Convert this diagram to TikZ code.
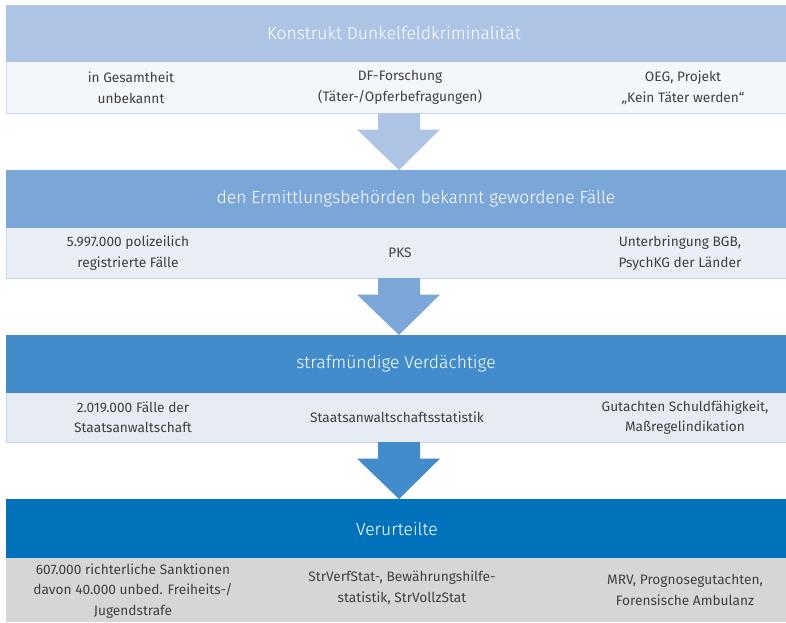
\documentclass[tikz,border=0pt]{standalone}
\usepackage{fontspec}
\setmainfont{Fira Sans Light}
\newfontfamily\cellfont{Fira Sans}
\usetikzlibrary{calc}
\definecolor{hA}{HTML}{AEC4E5}
\definecolor{sA}{HTML}{F3F6FB}
\definecolor{hB}{HTML}{7BA7D8}
\definecolor{sB}{HTML}{E9EEF7}
\definecolor{hC}{HTML}{428CCB}
\definecolor{sC}{HTML}{E7ECF4}
\definecolor{hD}{HTML}{0072BC}
\definecolor{sD}{HTML}{D6D6D8}
\definecolor{rim}{HTML}{CAD8EC}
\definecolor{txt}{HTML}{404040}
\tikzset{
  head/.style={rectangle, inner sep=0pt, outer sep=0pt, minimum width=780pt},
  title/.style={inner sep=0pt, text=white, font=\fontsize{17.5}{20}\selectfont},
  sub/.style={rectangle, inner sep=0pt, outer sep=0pt, minimum width=780pt},
  cell/.style={inner sep=0pt, align=center, text=txt, font=\cellfont\fontsize{13.7}{20.5}\selectfont}
}
\begin{document}
\begin{tikzpicture}[x=1pt,y=-1pt]
\useasboundingbox (0,0) rectangle (786,622);
% band 1
\node[head, fill=hA, minimum height=57pt] (h1) at (396,33.5) {};
\node[title] (t1) at (394,33.5) {Konstrukt Dunkelfeldkriminalität};
\node[sub, fill=sA, minimum height=51pt] (s1) at (396,87.5) {};
\draw[rim, line width=0.8pt] (s1.north west) -- (s1.south west) -- (s1.south east);
\node[cell] (c11) at (131,87.5) {in Gesamtheit\\unbekannt};
\node[cell] (c12) at (400,87.5) {DF-Forschung\\(Täter-/Opferbefragungen)};
\node[cell] (c13) at (683,87.5) {OEG, Projekt\\„Kein Täter werden“};
% band 2
\node[head, fill=hB, minimum height=58pt] (h2) at (396,199) {};
\node[title] (t2) at (416,199) {den Ermittlungsbehörden bekannt gewordene Fälle};
\node[sub, fill=sB, minimum height=50pt] (s2) at (396,253) {};
\draw[rim, line width=0.8pt] (s2.north west) -- (s2.south west) -- (s2.south east);
\node[cell] (c21) at (128,253) {5.997.000 polizeilich\\registrierte Fälle};
\node[cell] (c22) at (400,253) {PKS};
\node[cell] (c23) at (680,253) {Unterbringung BGB,\\PsychKG der Länder};
% band 3
\node[head, fill=hC, minimum height=58pt] (h3) at (396,364) {};
\node[title] (t3) at (396,364) {strafmündige Verdächtige};
\node[sub, fill=sC, minimum height=49pt] (s3) at (396,417.5) {};
\draw[rim, line width=0.8pt] (s3.north west) -- (s3.south west) -- (s3.south east);
\node[cell] (c31) at (133,417.5) {2.019.000 Fälle der\\Staatsanwaltschaft};
\node[cell] (c32) at (397,417.5) {Staatsanwaltschaftsstatistik};
\node[cell] (c33) at (685,417.5) {Gutachten Schuldfähigkeit,\\Maßregelindikation};
% band 4
\node[head, fill=hD, minimum height=59pt] (h4) at (396,528.5) {};
\node[title] (t4) at (397,528.5) {Verurteilte};
\node[sub, fill=sD, minimum height=64pt] (s4) at (396,590) {};
\node[cell] (c41) at (133,591) {607.000 richterliche Sanktionen\\davon 40.000 unbed. Freiheits-/\\Jugendstrafe};
\node[cell] (c42) at (402,588) {StrVerfStat-, Bewährungshilfe-\\statistik, StrVollzStat};
\node[cell] (c43) at (685,590) {MRV, Prognosegutachten,\\Forensische Ambulanz};
% arrows
\foreach \s/\h/\c in {s1/h2/hA, s2/h3/hB, s3/h4/hC}{
  \fill[\c] ($(\s.south)+(-18,0)$) -- ($(\s.south)+(24,0)$) --
    ($(\s.south)!0.29!(\h.north)+(24,0)$) -- ($(\s.south)!0.29!(\h.north)+(44,0)$) --
    ($(\h.north)+(3,0)$) -- ($(\s.south)!0.29!(\h.north)+(-39,0)$) --
    ($(\s.south)!0.29!(\h.north)+(-18,0)$) -- cycle;
}
\end{tikzpicture}
\end{document}
